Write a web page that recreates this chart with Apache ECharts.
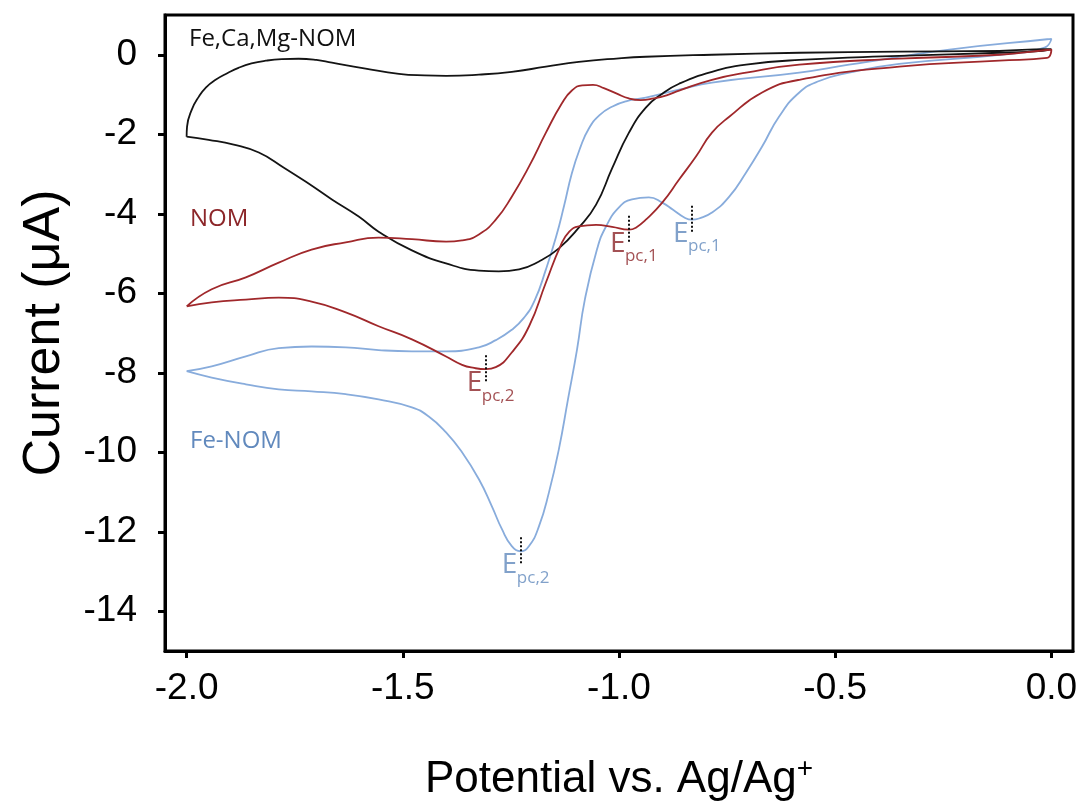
<!DOCTYPE html>
<html>
<head>
<meta charset="utf-8">
<script src="https://cdn.jsdelivr.net/npm/echarts@6/dist/echarts.min.js"></script>
<style>
  html, body { margin: 0; padding: 0; background: #fff; }
  #chart { width: 1083px; height: 804px; }
</style>
</head>
<body>
<div id="chart"></div>
<script>
// Cyclic voltammograms: [potential (V vs Ag/Ag+), current (µA)], each loop traced in scan order.
const feCaMgNOM = [
  [-2.00,-2.06],[-1.999,-1.81],[-1.988,-1.38],[-1.972,-1.06],[-1.955,-0.82],[-1.933,-0.63],
  [-1.905,-0.46],[-1.88,-0.33],[-1.85,-0.22],[-1.817,-0.15],[-1.78,-0.11],[-1.741,-0.10],
  [-1.70,-0.13],[-1.664,-0.20],[-1.586,-0.35],[-1.509,-0.48],[-1.45,-0.52],[-1.40,-0.53],
  [-1.324,-0.50],[-1.248,-0.43],[-1.169,-0.30],[-1.093,-0.18],[-1.00,-0.09],[-0.938,-0.05],
  [-0.785,0.00],[-0.583,0.05],[-0.352,0.08],[-0.12,0.10],[-0.01,0.14],[0.0,0.14],
  [-0.02,0.10],[-0.12,0.05],[-0.352,-0.03],[-0.583,-0.13],[-0.706,-0.25],[-0.785,-0.43],
  [-0.861,-0.73],[-0.90,-0.98],[-0.938,-1.33],[-0.977,-1.96],[-1.016,-2.86],[-1.053,-3.77],
  [-1.093,-4.35],[-1.139,-4.87],[-1.185,-5.20],[-1.231,-5.40],[-1.278,-5.45],[-1.324,-5.43],
  [-1.40,-5.25],[-1.479,-4.92],[-1.556,-4.45],[-1.602,-4.07],[-1.664,-3.64],[-1.718,-3.24],
  [-1.775,-2.84],[-1.833,-2.46],[-1.891,-2.26],[-1.949,-2.14],[-2.00,-2.06]
];

const nom = [
  [-2.00,-6.33],[-1.942,-5.90],[-1.863,-5.60],[-1.787,-5.23],[-1.711,-4.90],[-1.632,-4.72],
  [-1.556,-4.60],[-1.479,-4.64],[-1.40,-4.70],[-1.363,-4.67],[-1.324,-4.52],[-1.285,-4.15],
  [-1.248,-3.57],[-1.208,-2.81],[-1.169,-1.96],[-1.132,-1.22],[-1.109,-0.90],[-1.085,-0.77],
  [-1.060,-0.76],[-1.035,-0.84],[-1.005,-0.98],[-0.977,-1.10],[-0.950,-1.14],[-0.920,-1.10],
  [-0.890,-1.02],[-0.861,-0.90],[-0.785,-0.63],[-0.706,-0.45],[-0.583,-0.25],[-0.352,-0.10],
  [-0.12,0.00],[-0.01,0.12],[0.0,0.13],
  [-0.01,-0.08],[-0.12,-0.15],[-0.352,-0.30],[-0.583,-0.63],[-0.669,-0.95],[-0.745,-1.56],
  [-0.785,-1.96],[-0.822,-2.56],[-0.861,-3.14],[-0.90,-3.72],[-0.938,-4.15],[-0.961,-4.35],
  [-0.977,-4.40],[-1.016,-4.33],[-1.053,-4.28],[-1.093,-4.32],[-1.115,-4.45],[-1.135,-4.80],
  [-1.169,-5.73],[-1.208,-6.83],[-1.248,-7.49],[-1.285,-7.86],[-1.308,-7.91],[-1.335,-7.88],
  [-1.363,-7.80],[-1.40,-7.59],[-1.479,-7.16],[-1.556,-6.83],[-1.632,-6.48],[-1.711,-6.21],
  [-1.787,-6.11],[-1.863,-6.16],[-1.942,-6.23],[-2.00,-6.33]
];

const feNOM = [
  [-2.00,-7.96],[-1.942,-7.84],[-1.863,-7.59],[-1.787,-7.38],[-1.711,-7.34],[-1.632,-7.36],
  [-1.556,-7.43],[-1.479,-7.46],[-1.40,-7.46],[-1.324,-7.36],[-1.285,-7.18],[-1.248,-6.92],
  [-1.220,-6.62],[-1.195,-6.18],[-1.169,-5.40],[-1.146,-4.60],[-1.127,-3.80],[-1.109,-2.98],
  [-1.090,-2.35],[-1.070,-1.86],[-1.045,-1.52],[-1.015,-1.30],[-0.984,-1.17],[-0.938,-1.08],
  [-0.861,-0.88],[-0.785,-0.70],[-0.583,-0.45],[-0.468,-0.25],[-0.236,0.13],[-0.01,0.39],[0.0,0.40],
  [-0.016,0.18],[-0.12,0.00],[-0.352,-0.23],[-0.468,-0.45],[-0.537,-0.66],[-0.583,-0.95],
  [-0.630,-1.56],[-0.669,-2.31],[-0.706,-2.96],[-0.745,-3.57],[-0.785,-3.97],[-0.815,-4.12],
  [-0.831,-4.15],[-0.848,-4.10],[-0.875,-3.90],[-0.90,-3.72],[-0.931,-3.59],[-0.970,-3.64],
  [-1.00,-3.84],[-1.030,-4.32],[-1.051,-4.90],[-1.079,-6.16],[-1.097,-7.41],[-1.118,-8.67],
  [-1.139,-9.92],[-1.162,-11.01],[-1.185,-11.86],[-1.208,-12.36],[-1.227,-12.49],[-1.248,-12.36],
  [-1.271,-11.93],[-1.294,-11.36],[-1.324,-10.68],[-1.363,-10.00],[-1.40,-9.50],[-1.44,-9.10],
  [-1.479,-8.87],[-1.556,-8.67],[-1.632,-8.54],[-1.711,-8.47],[-1.787,-8.42],[-1.863,-8.29],
  [-1.942,-8.12],[-2.00,-7.96]
];

// Cathodic peak potentials: [E, i, peak index]
const peaksNOM = [[-0.977, -4.40, 1], [-1.308, -7.91, 2]];
const peaksFeNOM = [[-0.831, -4.15, 1], [-1.227, -12.49, 2]];

const xTicks = [-2.0, -1.5, -1.0, -0.5, 0.0];
const yTicks = [0, -2, -4, -6, -8, -10, -12, -14];

const curveNames = ['Fe,Ca,Mg-NOM', 'NOM', 'Fe-NOM'];
const colors = { black: '#141414', red: '#a0282b', blue: '#88acdc', redText: '#8c2629', blueText: '#6189bd' };

const chart = echarts.init(document.getElementById('chart'), null, { renderer: 'canvas' });

const peakItems = [
  ...peaksNOM.map(p => ({ value: [p[0], p[1]], idx: p[2], color: colors.redText })),
  ...peaksFeNOM.map(p => ({ value: [p[0], p[1]], idx: p[2], color: colors.blueText }))
];

const tickFont = 'Liberation Sans';
const noteFont = 'Open Sans';

chart.setOption({
  animation: false,
  grid: {
    left: 165, right: 10, top: 15, bottom: 153,
    show: true, borderColor: '#000', borderWidth: 3,
    containLabel: false, outerBoundsMode: 'none'
  },
  xAxis: {
    type: 'value', min: -2.05, max: 0.05,
    name: '{a|Potential vs. Ag/Ag}{b|+}',
    nameLocation: 'middle', nameGap: 104,
    nameTextStyle: {
      rich: {
        a: { fontSize: 44, fontFamily: tickFont, color: '#000', lineHeight: 50 },
        b: { fontSize: 28, fontFamily: tickFont, color: '#000', verticalAlign: 'top', lineHeight: 50, padding: [0, 0, 22, 0] }
      }
    },
    axisLine: { show: true, onZero: false, lineStyle: { color: '#000', width: 3 } },
    axisTick: { show: true, inside: false, length: 7, customValues: xTicks, lineStyle: { color: '#000', width: 3 } },
    axisLabel: {
      customValues: xTicks, margin: 19, fontSize: 37, fontFamily: tickFont, color: '#000',
      formatter: v => v.toFixed(1)
    },
    splitLine: { show: false }
  },
  yAxis: {
    type: 'value', min: -15, max: 1,
    name: 'Current (μA)',
    nameLocation: 'middle', nameGap: 94,
    nameTextStyle: { fontSize: 52, fontFamily: tickFont, color: '#000' },
    axisLine: { show: true, onZero: false, lineStyle: { color: '#000', width: 3 } },
    axisTick: { show: true, inside: false, length: 7, customValues: yTicks, lineStyle: { color: '#000', width: 3 } },
    axisLabel: {
      customValues: yTicks, margin: 28, fontSize: 37, fontFamily: tickFont, color: '#000',
      formatter: v => String(v)
    },
    splitLine: { show: false }
  },
  graphic: [
    { type: 'text', left: 189, top: 27, style: { text: curveNames[0], fontSize: 24, fontFamily: noteFont, fill: '#111' } },
    { type: 'text', left: 190, top: 207, style: { text: curveNames[1], fontSize: 24, fontFamily: noteFont, fill: colors.redText } },
    { type: 'text', left: 190, top: 429, style: { text: curveNames[2], fontSize: 24, fontFamily: noteFont, fill: colors.blueText } }
  ],
  series: [
    {
      name: curveNames[0], type: 'line', data: feCaMgNOM, showSymbol: false, smooth: 0.5,
      lineStyle: { color: colors.black, width: 1.8 }, z: 3
    },
    {
      name: curveNames[1], type: 'line', data: nom, showSymbol: false, smooth: 0.5,
      lineStyle: { color: colors.red, width: 1.8 }, z: 3
    },
    {
      name: curveNames[2], type: 'line', data: feNOM, showSymbol: false, smooth: 0.5,
      lineStyle: { color: colors.blue, width: 1.8 }, z: 2
    },
    {
      // "E" of each peak label, plus the dotted peak markers
      name: 'Epc', type: 'scatter', symbolSize: 0, z: 5,
      data: peakItems.map(d => ({ value: d.value, label: { color: d.color } })),
      label: {
        show: true, position: [-19, 0], align: 'left', verticalAlign: 'top',
        fontSize: 28, fontFamily: noteFont, formatter: () => 'E'
      },
      markLine: {
        silent: true, symbol: ['none', 'none'], label: { show: false },
        lineStyle: { type: [2, 2], color: '#111', width: 2 },
        data: peakItems.map(d => [
          { coord: [d.value[0], d.value[1] + 0.35] },
          { coord: [d.value[0], d.value[1] - 0.35] }
        ])
      }
    },
    {
      // subscript of each peak label
      name: 'Epc-sub', type: 'scatter', symbolSize: 0, z: 5,
      data: peakItems.map(d => ({ value: d.value, label: { color: d.color, formatter: 'pc,' + d.idx } })),
      label: {
        show: true, position: [-4, 18], align: 'left', verticalAlign: 'top',
        fontSize: 17, fontFamily: noteFont
      }
    }
  ]
});
</script>
</body>
</html>
